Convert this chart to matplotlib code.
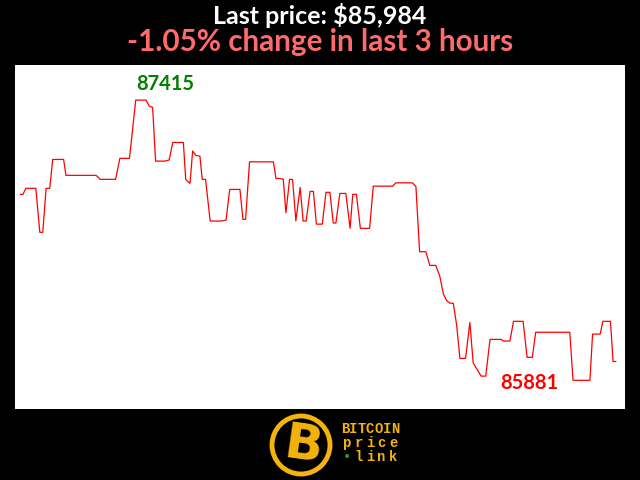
import matplotlib
matplotlib.use('Agg')
import matplotlib.pyplot as plt
from matplotlib.patches import Circle

# price readings over the last 3 hours (minutes from start, USD)
minutes = [0.0, 0.8, 1.7, 4.7, 5.9, 6.8, 7.8, 8.9, 9.8, 13.1, 13.8, 22.9,
           24.2, 28.8, 30.1, 33.0, 34.9, 38.0, 39.0, 40.0, 40.9, 43.7, 45.0,
           46.1, 49.3, 50.0, 51.3, 52.1, 53.1, 54.3, 55.0, 56.0, 57.4, 60.9,
           62.2, 63.3, 66.4, 67.3, 68.1, 69.3, 76.5, 77.3, 78.5, 79.5, 80.3,
           81.4, 82.3, 83.3, 84.6, 85.5, 86.4, 87.6, 88.6, 89.5, 91.3, 92.4,
           93.6, 94.6, 95.4, 96.6, 98.4, 99.7, 100.5, 101.6, 102.8, 105.6,
           106.7, 112.6, 113.5, 118.6, 119.6, 120.7, 122.6, 123.8, 125.6,
           126.8, 127.9, 128.9, 129.8, 130.9, 131.9, 132.9, 134.6, 135.9,
           136.9, 139.3, 140.7, 142.0, 145.3, 146.1, 148.0, 149.1, 152.0,
           153.2, 154.8, 155.8, 166.1, 167.1, 172.2, 173.0, 175.3, 176.1,
           178.4, 179.2, 180.0]
price = [86899, 86899, 86932, 86932, 86691, 86691, 86932, 86932, 87090, 87090,
         87003, 87003, 86981, 86981, 87096, 87096, 87415, 87415, 87382, 87375,
         87081, 87081, 87087, 87183, 87183, 86981, 86959, 87136, 87112, 87108,
         86981, 86981, 86753, 86753, 86758, 86926, 86926, 86762, 86762, 87077,
         87077, 86986, 86986, 86981, 86798, 86981, 86981, 86754, 86937, 86753,
         86753, 86915, 86915, 86736, 86736, 86910, 86910, 86742, 86742, 86904,
         86904, 86713, 86899, 86899, 86713, 86713, 86944, 86944, 86962, 86962,
         86941, 86585, 86585, 86510, 86510, 86452, 86353, 86317, 86304, 86302,
         86184, 86001, 86001, 86198, 85977, 85904, 85904, 86105, 86105, 86096,
         86096, 86204, 86204, 86007, 86007, 86144, 86144, 85881, 85881, 86134,
         86134, 86204, 86204, 85984, 85984]

last_price = 85984
change_pct = -1.05
high_label = '87415'
low_label = '85881'
logo_lines = ['BITCOIN', 'price', '\u2022link']

font = ['Lato', 'DejaVu Sans']
gold = '#f4b40c'

fig = plt.figure(figsize=(6.4, 4.8), dpi=100, facecolor='black')
ax = fig.add_axes([15 / 640, 71 / 480, 610 / 640, 344 / 480])
ax.set_facecolor('white')
ax.plot(minutes, price, color='red', lw=0.9)
ax.set_xlim(-1.6, 182.8)
ax.set_ylim(85724, 87607)
ax.set_xticks([])
ax.set_yticks([])
for s in ax.spines.values():
    s.set_visible(False)

ax.text(35.0, 87503, high_label, color='green', fontsize=14.5,
        fontweight='bold', family=font, ha='left', va='center')
ax.text(145.0, 85866, low_label, color='red', fontsize=14.5,
        fontweight='bold', family=font, ha='left', va='center')

fig.text(0.5, 1 - 16 / 480, f'Last price: ${last_price:,}', color='white',
         fontsize=18, fontweight='bold', family=font, ha='center', va='center')
fig.text(0.5, 1 - 42 / 480, f'{change_pct:.2f}% change in last 3 hours',
         color='#ff6b6b', fontsize=21.3, fontweight='bold', family=font,
         ha='center', va='center')

# logo
lax = fig.add_axes([0, 0, 1, 71 / 480])
lax.set_xlim(0, 640)
lax.set_ylim(0, 71)
lax.axis('off')
lax.set_aspect('equal')
lax.add_patch(Circle((301, 35), 29, facecolor='black', edgecolor=gold, lw=3.5))
lax.text(303, 34, 'B', color=gold, fontsize=36, fontweight='heavy',
         family='DejaVu Sans', ha='center', va='center', rotation=-8)
for line, yy in zip(logo_lines, [51, 37, 23]):
    n = len(line)
    step = 58 / n
    for i, ch in enumerate(line):
        col = '#2a9d2a' if ch == '\u2022' else gold
        lax.text(341 + step * (i + 0.5), yy, ch, color=col, fontsize=10,
                 fontweight='bold', family='Liberation Mono', ha='center',
                 va='center')

fig.savefig('out.png', dpi=100, facecolor='black')
